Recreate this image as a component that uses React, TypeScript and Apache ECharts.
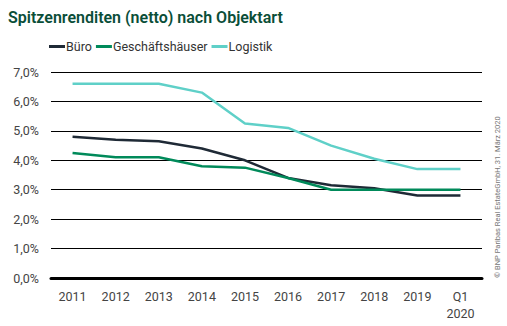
import React, { useEffect, useRef } from "react";
import * as echarts from "echarts";

const categories = ["2011", "2012", "2013", "2014", "2015", "2016", "2017", "2018", "2019", "Q1\n2020"];
const buero = [4.8, 4.7, 4.65, 4.4, 4.0, 3.4, 3.15, 3.05, 2.8, 2.8];
const geschaeft = [4.25, 4.1, 4.1, 3.8, 3.75, 3.4, 3.0, 3.0, 3.0, 3.0];
const logistik = [6.6, 6.6, 6.6, 6.3, 5.25, 5.1, 4.5, 4.05, 3.7, 3.7];

const titleText = "Spitzenrenditen (netto) nach Objektart";
const sourceText = "© BNP Paribas Real EstateGmbH, 31. März 2020";

export default function App() {
  const ref = useRef<HTMLDivElement>(null);
  useEffect(() => {
    if (!ref.current) return;
    const chart = echarts.init(ref.current, null, { renderer: "svg" });
    const mk = (name: string, data: number[], color: string) => ({
      name,
      type: "line",
      data,
      symbol: "none",
      lineStyle: { color, width: 2.5 },
      itemStyle: { color },
    });
    chart.setOption({
      animation: false,
      backgroundColor: "#ffffff",
      textStyle: { fontFamily: "Roboto" },
      title: {
        text: titleText,
        left: 3,
        top: 4,
        textStyle: { fontSize: 16, fontWeight: 600, color: "#0a4e38", fontFamily: "Roboto" },
      },
      legend: {
        left: 44,
        top: 35,
        itemWidth: 16,
        itemHeight: 3,
        itemGap: 4,
        icon: "rect",
        textStyle: { fontSize: 12.5, color: "#333", padding: [0, 0, 0, -4] },
        data: ["Büro", "Geschäftshäuser", "Logistik"],
      },
      grid: { left: 51, right: 25, top: 72, bottom: 48, containLabel: false },
      xAxis: {
        type: "category",
        data: categories,
        boundaryGap: true,
        axisLine: { show: true, lineStyle: { color: "#000", width: 3 } },
        axisTick: { show: false },
        axisLabel: { fontSize: 12.5, color: "#444", margin: 10, lineHeight: 17 },
      },
      yAxis: {
        type: "value",
        min: 0,
        max: 7,
        interval: 1,
        axisLine: { show: false },
        axisTick: { show: false },
        splitLine: { lineStyle: { color: "#000", width: 1 } },
        axisLabel: {
          fontSize: 12.5,
          color: "#444",
          margin: 12,
          formatter: (v: number) => v.toFixed(1).replace(".", ",") + "%",
        },
      },
      graphic: [
        {
          type: "text",
          x: 497,
          y: 197,
          rotation: Math.PI / 2,
          style: {
            text: sourceText,
            fontSize: 7.5,
            fill: "#777",
            textAlign: "center",
            textVerticalAlign: "middle",
            fontFamily: "Roboto",
          },
        },
      ],
      series: [
        mk("Büro", buero, "#1f2a36"),
        mk("Geschäftshäuser", geschaeft, "#008a5a"),
        mk("Logistik", logistik, "#5fd0c8"),
      ],
    });
    return () => chart.dispose();
  }, []);
  return <div ref={ref} style={{ width: 507, height: 326, position: "absolute", left: 0, top: 0 }} />;
}
